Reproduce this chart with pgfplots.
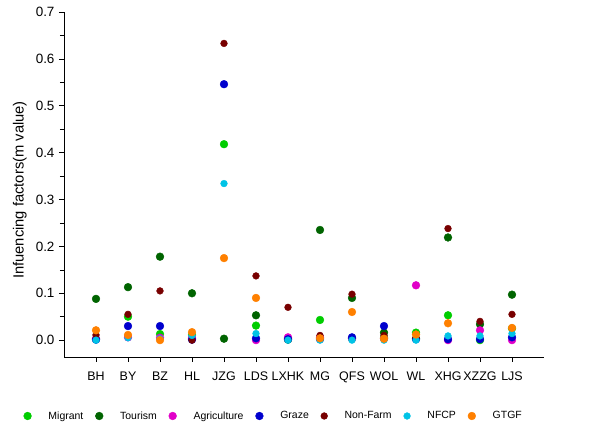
\documentclass[border=0pt]{standalone}
\usepackage{pgfplots}
\pgfplotsset{compat=1.18}
\usepackage{pgfplotstable}
\usepackage{fontspec}
\setmainfont{Liberation Sans}
\definecolor{cMig}{RGB}{0,205,0}
\definecolor{cTour}{RGB}{0,100,0}
\definecolor{cAgr}{RGB}{225,0,200}
\definecolor{cGra}{RGB}{0,0,205}
\definecolor{cNon}{RGB}{120,0,0}
\definecolor{cNFCP}{RGB}{0,195,230}
\definecolor{cGTGF}{RGB}{255,128,0}
\pgfplotstableread{
x  Mig    Tour   Agr    Gra    Non    NFCP   GTGF
0  0.002  0.088  0.003  0.001  0.011  0.000  0.021
1  0.050  0.113  0.006  0.030  0.055  0.005  0.011
2  0.013  0.178  0.005  0.030  0.105  0.003  0.000
3  0.011  0.100  0.004  0.001  0.000  0.010  0.017
4  0.418  0.003  nan    0.546  0.633  0.334  0.175
5  0.031  0.053  0.000  0.004  0.137  0.014  0.090
6  0.003  0.001  0.006  0.002  0.070  0.000  nan
7  0.043  0.235  0.006  0.002  0.010  0.000  0.004
8  0.003  0.090  0.003  0.006  0.098  0.000  0.060
9  0.005  0.016  0.003  0.030  0.010  0.000  0.003
10 0.016  0.003  0.117  0.002  0.005  0.000  0.012
11 0.053  0.219  0.000  0.002  0.238  0.009  0.036
12 0.000  0.034  0.021  0.002  0.040  0.009  nan
13 0.025  0.097  0.000  0.006  0.055  0.014  0.026
}\data
\begin{document}
\begin{tikzpicture}
\path[use as bounding box] (0,0) rectangle (592bp,427bp);
\begin{axis}[
  at={(64bp,70bp)}, anchor=south west,
  width=480bp, height=345bp, scale only axis,
  xmin=-1, xmax=14, ymin=-0.036, ymax=0.7,
  axis lines=left,
  axis line style={-, black, line width=0.8bp},
  xtick={0,...,13},
  xticklabels={BH,BY,BZ,HL,JZG,LDS,LXHK,MG,QFS,WOL,WL,XHG,XZZG,LJS},
  ytick={0,0.1,...,0.7},
  minor y tick num=1,
  tick align=outside,
  major tick length=5bp,
  minor tick length=4bp,
  tick style={black, line width=0.6bp},
  yticklabel style={/pgf/number format/fixed,/pgf/number format/fixed zerofill,/pgf/number format/precision=1, font=\fontsize{13.5}{15}\selectfont, xshift=-1bp},
  xticklabel style={font=\fontsize{12.5}{14}\selectfont, yshift=-6bp},
  /pgf/number format/assume math mode=true,
  ylabel={Infuencing factors(m value)},
  every axis y label/.style={at={(axis description cs:-0.092,0.484)},rotate=90,anchor=center,font=\fontsize{14.8}{17}\selectfont},
  legend columns=7,
  legend style={at={(axis description cs:-0.0844,-0.171)}, anchor=west, draw=none, fill=none, inner sep=0pt,
    font=\fontsize{10.5}{12}\selectfont,
    /tikz/every odd column/.append style={column sep=15bp},
    /tikz/every even column/.append style={column sep=10bp}},
  legend image code/.code={\draw[#1] plot coordinates {(0bp,0bp)};},
  clip=false,
]
\addplot[only marks, mark=*, mark size=3.9bp, color=cMig] table[x=x,y=Mig] {\data};
\addlegendentry{Migrant}
\addplot[only marks, mark=*, mark size=3.9bp, color=cTour] table[x=x,y=Tour] {\data};
\addlegendentry{Tourism}
\addplot[only marks, mark=*, mark size=3.9bp, color=cAgr] table[x=x,y=Agr] {\data};
\addlegendentry{Agriculture}
\addplot[only marks, mark=*, mark size=3.9bp, color=cGra] table[x=x,y=Gra] {\data};
\addlegendentry{Graze}
\addplot[only marks, mark=*, mark size=3.4bp, color=cNon] table[x=x,y=Non] {\data};
\addlegendentry{Non-Farm}
\addplot[only marks, mark=*, mark size=3.4bp, color=cNFCP] table[x=x,y=NFCP] {\data};
\addlegendentry{NFCP}
\addplot[only marks, mark=*, mark size=3.9bp, color=cGTGF] table[x=x,y=GTGF] {\data};
\addlegendentry{GTGF}
\end{axis}
\end{tikzpicture}
\end{document}
